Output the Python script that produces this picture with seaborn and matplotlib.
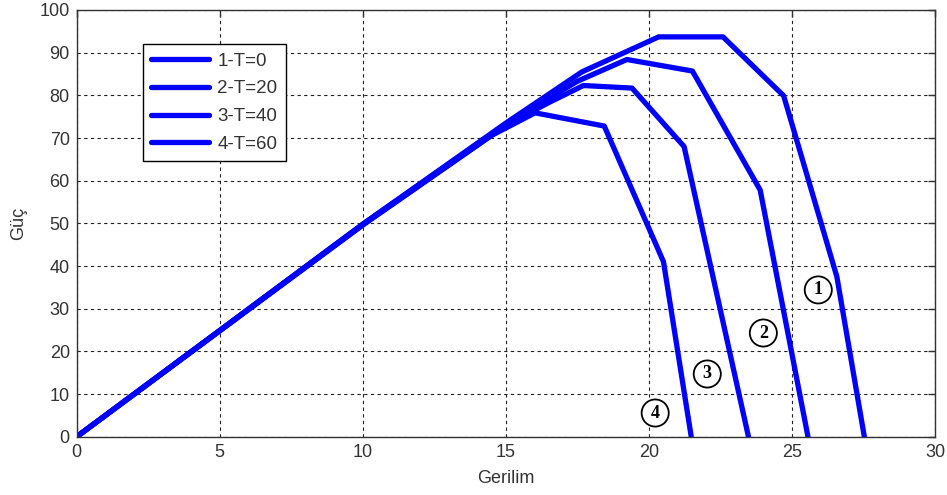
import numpy as np
import pandas as pd
import matplotlib
matplotlib.use("Agg")
import matplotlib.pyplot as plt
import seaborn as sns

# ---- data ----
labels = ["1-T=0", "2-T=20", "3-T=40", "4-T=60"]
v1 = [0, 10, 15, 17.66, 20.34, 22.59, 24.71, 26.57, 27.53]
p1 = [0, 49.8, 73.5, 85.5, 93.7, 93.7, 79.9, 37.5, 0]
v2 = [0, 10, 15, 17.5, 19.23, 21.52, 23.89, 25.56]
p2 = [0, 49.8, 73.3, 83.3, 88.4, 85.7, 57.8, 0]
v3 = [0, 10, 15, 16.5, 17.71, 19.41, 21.23, 23.48]
p3 = [0, 49.7, 73.0, 78.3, 82.3, 81.7, 68.0, 0]
v4 = [0, 10, 14.5, 16.02, 18.44, 20.51, 21.48]
p4 = [0, 49.6, 70.6, 75.9, 72.8, 41.0, 0]
ann_text = ["1", "2", "3", "4"]
ann_x = [25.92, 24.0, 22.04, 20.22]
ann_y = [34.4, 24.3, 14.7, 5.55]

frames = []
for lab, v, p in zip(labels, [v1, v2, v3, v4], [p1, p2, p3, p4]):
    frames.append(pd.DataFrame({"Gerilim": v, "Güç": p, "seri": lab}))
df = pd.concat(frames, ignore_index=True)

sns.set_style("white")
plt.rcParams["font.family"] = ["Liberation Sans", "DejaVu Sans"]

fig = plt.figure(figsize=(9.47, 4.95), dpi=100)
ax = fig.add_axes([76.7 / 947, (495 - 436.7) / 495, (935 - 76.7) / 947, (436.7 - 10) / 495])

sns.lineplot(data=df, x="Gerilim", y="Güç", hue="seri",
             palette=["#0000ff"] * 4, linewidth=3.8, sort=False, estimator=None, ax=ax)

ax.set_xlim(0, 30)
ax.set_ylim(0, 100)
ax.set_xticks(range(0, 31, 5))
ax.set_yticks(range(0, 101, 10))
ax.grid(True, color="#222222", linestyle=(0, (3, 3)), linewidth=0.8)
ax.tick_params(direction="in", length=5, width=1, colors="#333333", labelsize=13,
               top=True, right=True, labelcolor="#333333", pad=5)
for s in ax.spines.values():
    s.set_visible(True)
    s.set_color("#333333")
    s.set_linewidth(1)
ax.set_xlabel("Gerilim", fontsize=13, color="#333333", labelpad=7)
ax.set_ylabel("Güç", fontsize=13, color="#333333", labelpad=9)

for t, x, y in zip(ann_text, ann_x, ann_y):
    ax.text(x, y, t, ha="center", va="center", fontsize=13, fontweight="bold",
            family=["Liberation Serif", "DejaVu Serif"], color="black",
            bbox=dict(boxstyle="circle,pad=0.28", fc="white", ec="black", lw=1.3))

leg = ax.legend(loc="upper left", bbox_to_anchor=(0.077, 0.92), borderaxespad=0,
                fontsize=13.5, handlelength=3.1, handletextpad=0.43, labelspacing=0.57,
                borderpad=0.44, fancybox=False, framealpha=1, edgecolor="black", title=None)
leg.get_frame().set_linewidth(1)
for txt in leg.get_texts():
    txt.set_color("#333333")

fig.savefig("out.png", dpi=100)
